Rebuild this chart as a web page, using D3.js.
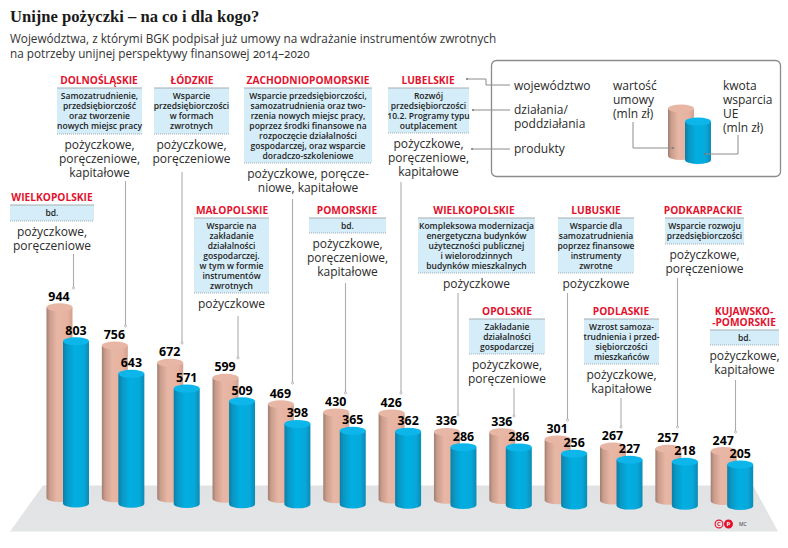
<!DOCTYPE html>
<html><head><meta charset="utf-8">
<script src="https://cdn.jsdelivr.net/npm/d3@7/dist/d3.min.js"></script>
<style>
html,body{margin:0;padding:0;background:#fff}
svg{display:block}
text{font-family:"Open Sans","Noto Sans",sans-serif;fill:#2b2b2b}
</style></head><body>
<svg id="c" width="788" height="548"></svg>
<script>
const regions = ["WIELKOPOLSKIE","DOLNOŚLĄSKIE","ŁÓDZKIE","MAŁOPOLSKIE","ZACHODNIOPOMORSKIE","POMORSKIE","LUBELSKIE","WIELKOPOLSKIE","OPOLSKIE","LUBUSKIE","PODLASKIE","PODKARPACKIE","KUJAWSKO-POMORSKIE"];
const contractValues = [944,756,672,599,469,430,426,336,336,301,267,257,247];
const euValues = [803,643,571,509,398,365,362,286,286,256,227,218,205];
const titleText = "Unijne pożyczki – na co i dla kogo?";
const subtitleLines = ["Województwa, z którymi BGK podpisał już umowy na wdrażanie instrumentów zwrotnych","na potrzeby unijnej perspektywy finansowej 2014–2020"];
const nameLines = [["WIELKOPOLSKIE"],["DOLNOŚLĄSKIE"],["ŁÓDZKIE"],["MAŁOPOLSKIE"],["ZACHODNIOPOMORSKIE"],["POMORSKIE"],["LUBELSKIE"],["WIELKOPOLSKIE"],["OPOLSKIE"],["LUBUSKIE"],["PODLASKIE"],["PODKARPACKIE"],["KUJAWSKO-","-POMORSKIE"]];
const actions = [
 ["bd."],
 ["Samozatrudnienie,","przedsiębiorczość","oraz tworzenie","nowych miejsc pracy"],
 ["Wsparcie","przedsiębiorczości","w formach","zwrotnych"],
 ["Wsparcie na","zakładanie","działalności","gospodarczej.","w tym w formie","instrumentów","zwrotnych"],
 ["Wsparcie przedsiębiorczości,","samozatrudnienia oraz two-","rzenia nowych miejsc pracy,","poprzez środki finansowe na","rozpoczęcie działalności","gospodarczej, oraz wsparcie","doradczo-szkoleniowe"],
 ["bd."],
 ["Rozwój","przedsiębiorczości","10.2. Programy typu","outplacement"],
 ["Kompleksowa modernizacja","energetyczna budynków","użyteczności publicznej","i wielorodzinnych","budynków mieszkalnych"],
 ["Zakładanie","działalności","gospodarczej"],
 ["Wsparcie dla","samozatrudnienia","poprzez finansowe","instrumenty","zwrotne"],
 ["Wzrost samoza-","trudnienia i przed-","siębiorczości","mieszkańców"],
 ["Wsparcie rozwoju","przedsiębiorczości"],
 ["bd."]
];
const products = [
 ["pożyczkowe,","poręczeniowe"],
 ["pożyczkowe,","poręczeniowe,","kapitałowe"],
 ["pożyczkowe,","poręczeniowe"],
 ["pożyczkowe"],
 ["pożyczkowe, poręcze-","niowe, kapitałowe"],
 ["pożyczkowe,","poręczeniowe,","kapitałowe"],
 ["pożyczkowe,","poręczeniowe,","kapitałowe"],
 ["pożyczkowe"],
 ["pożyczkowe,","poręczeniowe"],
 ["pożyczkowe"],
 ["pożyczkowe,","kapitałowe"],
 ["pożyczkowe,","poręczeniowe"],
 ["pożyczkowe,","kapitałowe"]
];
const legendRows = [["województwo"],["działania/","poddziałania"],["produkty"]];
const legendContract = ["wartość","umowy","(mln zł)"];
const legendEU = ["kwota","wsparcia","UE","(mln zł)"];
const legendValues = [235,190];

// layout (separate from data): cx, nameY, boxL, boxR, boxT, boxB, connector x/y1/y2
const layout = [
 {cx:52,ny:197,l:10,r:94,t:205,b:221,lx:73.5,y1:254,y2:288},
 {cx:99,ny:80,l:57,r:142,t:88,b:134,lx:125.5,y1:181,y2:326},
 {cx:192,ny:80,l:154,r:229,t:88,b:134,lx:182,y1:172,y2:343},
 {cx:232,ny:210,l:194,r:269,t:218,b:293,lx:238,y1:316,y2:358},
 {cx:308,ny:80,l:244,r:372,t:88,b:163,lx:292.5,y1:199,y2:383},
 {cx:347,ny:210,l:309,r:386,t:218,b:233,lx:345.5,y1:283,y2:393},
 {cx:428,ny:80,l:388,r:469,t:88,b:133,lx:401,y1:182,y2:393},
 {cx:474,ny:210,l:418,r:535,t:218,b:273,lx:458,y1:293,y2:415},
 {cx:507,ny:311,l:469,r:545,t:319,b:354,lx:514,y1:388,y2:416},
 {cx:596,ny:210,l:558,r:634,t:218,b:273,lx:567.5,y1:293,y2:420},
 {cx:621,ny:311,l:584,r:659,t:319,b:364,lx:621,y1:398,y2:427},
 {cx:703,ny:210,l:665,r:744,t:218,b:244,lx:677.5,y1:278,y2:427},
 {cx:744,ny:311,l:710,r:779,t:330,b:345,lx:735.5,y1:380,y2:432}
];

const svg = d3.select("#c");
const defs = svg.append("defs");
function grad(id,stops){
  const g=defs.append("linearGradient").attr("id",id).attr("x1",0).attr("x2",1).attr("y1",0).attr("y2",0);
  stops.forEach(s=>g.append("stop").attr("offset",s[0]).attr("stop-color",s[1]));
}
grad("pk",[[0,"#a07d71"],[0.12,"#c99c8b"],[0.4,"#e8b6a4"],[0.8,"#e6b3a1"],[1,"#d3a08e"]]);
grad("bl",[[0,"#0b7fa6"],[0.15,"#0a97c4"],[0.45,"#01afe2"],[0.8,"#07a8da"],[1,"#0b8ab3"]]);
const fg=defs.append("linearGradient").attr("id","fl").attr("x1",0).attr("x2",0).attr("y1",0).attr("y2",1);
fg.append("stop").attr("offset",0).attr("stop-color","#e0e2e3");
fg.append("stop").attr("offset",1).attr("stop-color","#e4e5e6");

// floor
const floorTop=485.5, floorBottom=531.5;
svg.append("path").attr("d",d3.line()([[43,floorTop],[753,floorTop],[778,floorBottom],[10,floorBottom]])+"Z").attr("fill","url(#fl)");

// scales
const x = d3.scaleBand().domain(d3.range(regions.length)).range([46.5,46.5+55.35*13]).paddingInner(0).paddingOuter(0);
const h = d3.scaleLinear().domain([0,1000]).range([0,202]);
const W=26, RY=4;
function cyl(g,left,base,ht,fill,top,rx=W/2,ry=RY){
  const tY=base-ht;
  g.append("path").attr("d",`M${left},${tY}L${left},${base}A${rx},${ry} 0 0 0 ${left+2*rx},${base}L${left+2*rx},${tY}Z`).attr("fill",`url(#${fill})`);
  g.append("ellipse").attr("cx",left+rx).attr("cy",tY).attr("rx",rx).attr("ry",ry).attr("fill",top);
}
const bars = svg.append("g");
regions.forEach((r,i)=>{
  const L=x(i), t=i/12;
  const g=bars.append("g");
  cyl(g,L,498+3*t,h(contractValues[i]),"pk","#e8b6a4");
  cyl(g,L+16.5,503.5+2.5*t,h(euValues[i]),"bl","#0db6ea");
});
// connectors
const lineCol="#adadad";
layout.forEach(p=>{
  svg.append("line").attr("x1",p.lx).attr("x2",p.lx).attr("y1",p.y1).attr("y2",p.y2).attr("stroke",lineCol).attr("stroke-width",1.1);
  svg.append("circle").attr("cx",p.lx).attr("cy",p.y2).attr("r",1.1).attr("fill","#fff").attr("stroke","#999").attr("stroke-width",.6);
});
// value labels
regions.forEach((r,i)=>{
  const L=x(i), t=i/12;
  [[contractValues[i],L+12.5,498+3*t],[euValues[i],L+29.5,503.5+2.5*t]].forEach(v=>{
    svg.append("text").attr("x",v[1]).attr("y",v[2]-h(v[0])-11).attr("dy",".36em").attr("text-anchor","middle")
      .style("font-size","12.4px").style("font-weight",700).style("fill","#000").style("font-family","'Noto Sans',sans-serif").text(v[0]);
  });
});
// one text element per block, one tspan per line
function multi(lines,cx,y0,lh,size,weight,fill,anchor="middle"){
  const t=svg.append("text").attr("text-anchor",anchor)
    .style("font-size",size+"px").style("font-weight",weight).style("fill",fill);
  lines.forEach((s,i)=>{
    t.append("tspan").attr("x",cx).attr("y",y0+i*lh).attr("dy",".36em").text(s);
  });
}
// annotation blocks
regions.forEach((r,i)=>{
  const p=layout[i];
  svg.append("rect").attr("x",p.l).attr("y",p.t).attr("width",p.r-p.l).attr("height",p.b-p.t).attr("fill","#d5edf9");
  svg.append("line").attr("x1",p.l).attr("x2",p.r).attr("y1",p.t).attr("y2",p.t).attr("stroke","#a4adb2").attr("stroke-width",1.1);
  svg.append("line").attr("x1",p.l).attr("x2",p.r).attr("y1",p.b).attr("y2",p.b).attr("stroke","#8d9ba3").attr("stroke-width",.8).attr("stroke-dasharray","1 1");
  multi(nameLines[i],p.cx,p.ny,11.5,10.2,700,"#e3122d");
  const bx=(p.l+p.r)/2;
  multi(actions[i],bx,p.t+8,10,8.5,600,"#222");
  multi(products[i],bx,p.b+11,14,12,400,"#2b2b2b");
});
// title
svg.append("text").attr("x",10).attr("y",22).style("font-family","'Liberation Serif',serif").style("font-weight",700).style("font-size","16.6px").style("fill","#1a1a1a").text(titleText);
subtitleLines.forEach((s,i)=>svg.append("text").attr("x",10).attr("y",43+i*15).style("font-size","11.74px").style("fill","#333").style("font-feature-settings","'onum'").text(s));
// legend
svg.append("rect").attr("x",491.5).attr("y",60.5).attr("width",289).attr("height",116).attr("rx",5).attr("fill","#fff").attr("stroke","#8c8c8c").attr("stroke-width",1.3);
const lg=svg.append("g");
cyl(lg,668,156,h(legendValues[0]),"pk","#e8b6a4");
cyl(lg,685,160,h(legendValues[1]),"bl","#0db6ea");
[[[467,79],[486,79],[486,85],[510,85]],[[473,110],[510,110]],[[472,149],[510,149]],[[633,122],[633,148],[673,148]],[[738,135],[738,154],[705,154]]].forEach(pts=>{
  svg.append("path").attr("d",d3.line()(pts)).attr("fill","none").attr("stroke","#8c8c8c").attr("stroke-width",1);
  const e=pts[pts[0][1]===122||pts[0][1]===135?pts.length-1:0];
  svg.append("circle").attr("cx",e[0]).attr("cy",e[1]).attr("r",1).attr("fill","#777");
});
multi(legendRows[0],514,85.5,14,12,400,"#2b2b2b","start");
multi(legendRows[1],514,110,14,12,400,"#2b2b2b","start");
multi(legendRows[2],514,149,14,12,400,"#2b2b2b","start");
multi(legendContract,613,85.5,14,12,400,"#2b2b2b","start");
multi(legendEU,723,85.5,14,12,400,"#2b2b2b","start");
// credit
["C","P"].forEach((c,i)=>{
  const cx=719+i*9.5;
  svg.append("circle").attr("cx",cx).attr("cy",524).attr("r",3.9).attr("fill",i?"#e3122d":"none").attr("stroke","#e3122d").attr("stroke-width",1.1);
  svg.append("text").attr("x",cx).attr("y",524).attr("dy",".36em").attr("text-anchor","middle").style("font-size","6px").style("font-weight",700).style("fill",i?"#fff":"#e3122d").text(c);
});
svg.append("text").attr("x",739).attr("y",525.5).style("font-size","5px").style("fill","#333").text("MC");
</script>
</body></html>
